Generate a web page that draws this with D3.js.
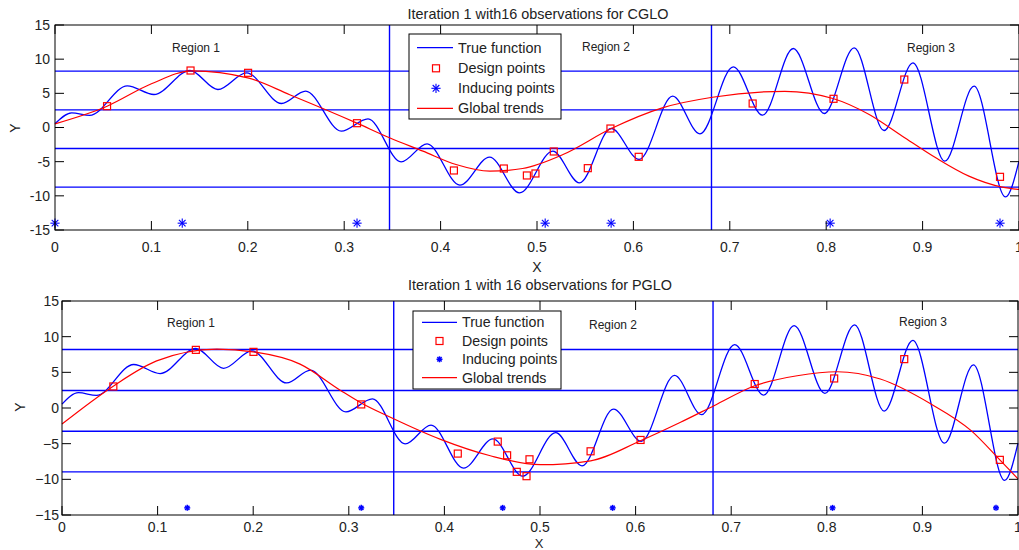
<!DOCTYPE html>
<html>
<head>
<meta charset="utf-8">
<script src="https://cdn.jsdelivr.net/npm/d3@7"></script>
<style>
  body { margin: 0; background: #fff; }
  text { font-family: "Liberation Sans", Arial, Helvetica, sans-serif; fill: #222; }
</style>
</head>
<body>
<svg id="chart" width="1019" height="550"></svg>
<script>
// true function (extrema + ends)
var trueX = [0, 0.0173, 0.036, 0.075, 0.1026, 0.140, 0.169, 0.1986, 0.235, 0.260, 0.297, 0.3247,
  0.359, 0.386, 0.420, 0.4508, 0.4819, 0.5164, 0.544, 0.5769, 0.606, 0.6407, 0.669, 0.7036,
  0.734, 0.7658, 0.798, 0.829, 0.860, 0.890, 0.923, 0.9534, 0.986, 1.0];
var trueY = [0.54, 2.15, 1.76, 6.1, 4.83, 8.34, 5.56, 8.0, 3.51, 5.32, -0.54, 1.27,
  -5.03, -2.39, -8.44, -4.34, -9.56, -3.46, -8.1, -0.15, -4.68, 4.58, -0.93, 8.88,
  1.8, 11.56, 2.05, 11.66, -0.44, 9.47, -4.93, 6.05, -10.15, -4.93];

// global trend, CGLO
var trendCX = [0, 0.054, 0.1, 0.142, 0.2, 0.2435, 0.3126, 0.347, 0.3817, 0.416, 0.451, 0.485,
  0.527, 0.577, 0.630, 0.682, 0.757, 0.807, 0.8446, 0.879, 0.9137, 0.948, 0.9827, 1.0];
var trendCY = [0.54, 3.12, 6.4, 8.3, 7.27, 4.8, 0.68, -1.5, -3.46, -5.42, -6.39, -6.0,
  -3.95, -0.15, 2.88, 4.43, 5.3, 4.24, 1.9, -1.27, -4.44, -7.12, -8.73, -9.07];

// global trend, PGLO
var trendPX = [0, 0.054, 0.099, 0.162, 0.2, 0.249, 0.291, 0.313, 0.3435, 0.396, 0.448, 0.5005,
  0.553, 0.605, 0.647, 0.682, 0.7246, 0.769, 0.811, 0.856, 0.909, 0.951, 0.981, 1.0];
var trendPY = [-2.24, 3.1, 6.6, 8.25, 7.87, 6.15, 2.5, 0.7, -1.3, -4.4, -6.7, -7.95,
  -7.4, -4.6, -2.0, 0.32, 3.12, 4.52, 5.08, 4.06, 0.56, -3.17, -7.27, -9.93];

// design points
var designCX = [0.054, 0.1406, 0.2003, 0.3133, 0.4138, 0.4656, 0.4895, 0.4984, 0.5174, 0.5527,
  0.5762, 0.6055, 0.7237, 0.8076, 0.881, 0.9803];
var designCY = [3.12, 8.34, 8.0, 0.63, -6.29, -6.0, -7.02, -6.73, -3.51, -5.95,
  -0.15, -4.29, 3.51, 4.2, 7.02, -7.22];
var designPX = [0.0537, 0.14, 0.2003, 0.313, 0.414, 0.4558, 0.4656, 0.4757, 0.4859, 0.489,
  0.5529, 0.6052, 0.7246, 0.8077, 0.881, 0.981];
var designPY = [3.02, 8.15, 7.87, 0.5, -6.39, -4.71, -6.63, -8.95, -9.56, -7.19,
  -6.07, -4.48, 3.36, 4.14, 6.85, -7.27];

// inducing points (all at y = -14)
var inducingCX = [0, 0.132, 0.3133, 0.5085, 0.5769, 0.8041, 0.9803];
var inducingPX = [0.131, 0.313, 0.461, 0.576, 0.806, 0.977];
var inducingY = -14;

// region splits
var splitCY = [8.25, 2.58, -3.07, -8.73];
var splitPY = [8.2, 2.45, -3.25, -8.95];
var splitX = [0.347, 0.681];

var regionNames = ['Region 1', 'Region 2', 'Region 3'];
var legendNames = ['True function', 'Design points', 'Inducing points', 'Global trends'];
var xTicks = [0, 0.1, 0.2, 0.3, 0.4, 0.5, 0.6, 0.7, 0.8, 0.9, 1];
var yTicks = [-15, -10, -5, 0, 5, 10, 15];

var svg = d3.select('#chart');
var blue = '#0000ff', red = '#ff0000';

function zip(xs, ys){ return xs.map(function(x, i){ return [x, ys[i]]; }); }

function asterisk(g, cx, cy, r, w){
    var p = g.append('g').attr('transform', 'translate(' + cx + ',' + cy + ')')
        .attr('stroke', blue).attr('stroke-width', w);
    p.append('line').attr('x1', -r).attr('x2', r).attr('y1', 0).attr('y2', 0);
    p.append('line').attr('x1', 0).attr('x2', 0).attr('y1', -r).attr('y2', r);
    var d = r * 0.72;
    p.append('line').attr('x1', -d).attr('x2', d).attr('y1', -d).attr('y2', d);
    p.append('line').attr('x1', -d).attr('x2', d).attr('y1', d).attr('y2', -d);
}

function drawPanel(cfg){
    var x = d3.scaleLinear().domain([0, 1]).range([cfg.left, cfg.right]);
    var y = d3.scaleLinear().domain([-15, 15]).range([cfg.bottom, cfg.top]);
    var g = svg.append('g');
    var tl = 9;

    // split lines
    g.selectAll('line.h').data(cfg.splitY).enter().append('line')
        .attr('x1', cfg.left).attr('x2', cfg.right)
        .attr('y1', function(d){ return y(d); }).attr('y2', function(d){ return y(d); })
        .attr('stroke', blue).attr('stroke-width', 1.4);
    g.selectAll('line.v').data(splitX).enter().append('line')
        .attr('x1', function(d){ return x(d); }).attr('x2', function(d){ return x(d); })
        .attr('y1', cfg.top).attr('y2', cfg.bottom)
        .attr('stroke', blue).attr('stroke-width', 1.4);

    // true function
    var line = d3.line().x(function(d){ return x(d[0]); }).y(function(d){ return y(d[1]); });
    g.append('path').datum(zip(trueX, trueY))
        .attr('d', line.curve(d3.curveMonotoneX))
        .attr('fill', 'none').attr('stroke', blue).attr('stroke-width', 1.3);
    // trend
    g.append('path').datum(zip(cfg.trendX, cfg.trendY))
        .attr('d', line.curve(d3.curveMonotoneX))
        .attr('fill', 'none').attr('stroke', red).attr('stroke-width', 1.2);

    // design points
    g.selectAll('rect.dp').data(zip(cfg.designX, cfg.designY)).enter().append('rect')
        .attr('x', function(d){ return x(d[0]) - 3.5; })
        .attr('y', function(d){ return y(d[1]) - 3.5; })
        .attr('width', 7).attr('height', 7)
        .attr('fill', 'none').attr('stroke', red).attr('stroke-width', 1.2);

    // inducing points
    cfg.inducingX.forEach(function(d){ asterisk(g, x(d), y(inducingY), cfg.starR, cfg.starW); });

    // box and ticks
    g.append('rect').attr('x', cfg.left).attr('y', cfg.top)
        .attr('width', cfg.right - cfg.left).attr('height', cfg.bottom - cfg.top)
        .attr('fill', 'none').attr('stroke', '#000').attr('stroke-width', 1);
    xTicks.forEach(function(t){
        g.append('line').attr('x1', x(t)).attr('x2', x(t)).attr('y1', cfg.bottom).attr('y2', cfg.bottom - tl).attr('stroke', '#000');
        g.append('line').attr('x1', x(t)).attr('x2', x(t)).attr('y1', cfg.top).attr('y2', cfg.top + tl).attr('stroke', '#000');
        g.append('text').attr('x', x(t)).attr('y', cfg.bottom + cfg.xLabOff).attr('dy', '0.35em')
            .attr('text-anchor', 'middle').style('font-size', '14px').text(String(t));
    });
    yTicks.forEach(function(t){
        g.append('line').attr('x1', cfg.left).attr('x2', cfg.left + tl).attr('y1', y(t)).attr('y2', y(t)).attr('stroke', '#000');
        g.append('line').attr('x1', cfg.right).attr('x2', cfg.right - tl).attr('y1', y(t)).attr('y2', y(t)).attr('stroke', '#000');
        g.append('text').attr('x', cfg.left - cfg.yLabOff).attr('y', y(t)).attr('dy', '0.35em')
            .attr('text-anchor', 'end').style('font-size', '14px')
            .text(t < 0 ? cfg.minus + Math.abs(t) : String(t));
    });

    // axis labels and title
    g.append('text').attr('x', cfg.xLab[0]).attr('y', cfg.xLab[1]).attr('dy', '0.35em')
        .attr('text-anchor', 'middle').style('font-size', cfg.xLabFs).text('X');
    g.append('text').attr('transform', 'translate(' + cfg.yLab[0] + ',' + cfg.yLab[1] + ') rotate(-90)')
        .attr('dy', '0.35em').attr('text-anchor', 'middle').style('font-size', '14px').text('Y');
    g.append('text').attr('x', cfg.title[0]).attr('y', cfg.title[1]).attr('dy', '0.35em')
        .attr('text-anchor', 'middle').style('font-size', '14.4px').text(cfg.titleText);

    // region labels
    regionNames.forEach(function(n, i){
        g.append('text').attr('x', cfg.regions[i][0]).attr('y', cfg.regions[i][1]).attr('dy', '0.35em')
            .attr('text-anchor', 'middle').style('font-size', '12px').text(n);
    });

    // legend
    var L = cfg.legend;
    g.append('rect').attr('x', L.x0).attr('y', L.y0).attr('width', L.x1 - L.x0).attr('height', L.y1 - L.y0)
        .attr('fill', '#fff').attr('stroke', '#000').attr('stroke-width', 1);
    legendNames.forEach(function(n, i){
        var ry = L.rows[i];
        if (i === 0 || i === 3) {
            g.append('line').attr('x1', L.s0).attr('x2', L.s1).attr('y1', ry).attr('y2', ry)
                .attr('stroke', i === 0 ? blue : red).attr('stroke-width', 1.3);
        } else if (i === 1) {
            g.append('rect').attr('x', L.m - 3.5).attr('y', ry - 3.5).attr('width', 7).attr('height', 7)
                .attr('fill', 'none').attr('stroke', red).attr('stroke-width', 1.2);
        } else {
            asterisk(g, L.m, ry, cfg.starR, cfg.starW);
        }
        g.append('text').attr('x', L.tx).attr('y', ry).attr('dy', '0.35em')
            .style('font-size', L.fs).text(n);
    });
}

drawPanel({
    left: 55, right: 1019, top: 25, bottom: 230,
    splitY: splitCY, trendX: trendCX, trendY: trendCY,
    designX: designCX, designY: designCY, inducingX: inducingCX,
    starR: 4.6, starW: 1.1, minus: '-',
    xLabOff: 17, yLabOff: 5, xLab: [537, 267], xLabFs: '14px', yLab: [15, 128],
    title: [538, 14], titleText: 'Iteration 1 with16 observations for CGLO',
    regions: [[196, 48], [606, 47], [931, 48]],
    legend: { x0: 409, x1: 561, y0: 34, y1: 119, rows: [47.7, 68.3, 88.3, 108.3],
        s0: 417, s1: 453, m: 436, tx: 458, fs: '14.4px' }
});

drawPanel({
    left: 62, right: 1018, top: 301, bottom: 515,
    splitY: splitPY, trendX: trendPX, trendY: trendPY,
    designX: designPX, designY: designPY, inducingX: inducingPX,
    starR: 3, starW: 1.5, minus: '\u2212',
    xLabOff: 12, yLabOff: 3, xLab: [539, 543], xLabFs: '13px', yLab: [20, 407],
    title: [540, 285], titleText: 'Iteration 1 with 16 observations for PGLO',
    regions: [[191, 323], [613, 325], [923, 322]],
    legend: { x0: 413, x1: 561, y0: 311, y1: 389, rows: [322.3, 341, 359.3, 377.7],
        s0: 422, s1: 457, m: 439.5, tx: 462, fs: '14.2px' }
});
</script>
</body>
</html>
